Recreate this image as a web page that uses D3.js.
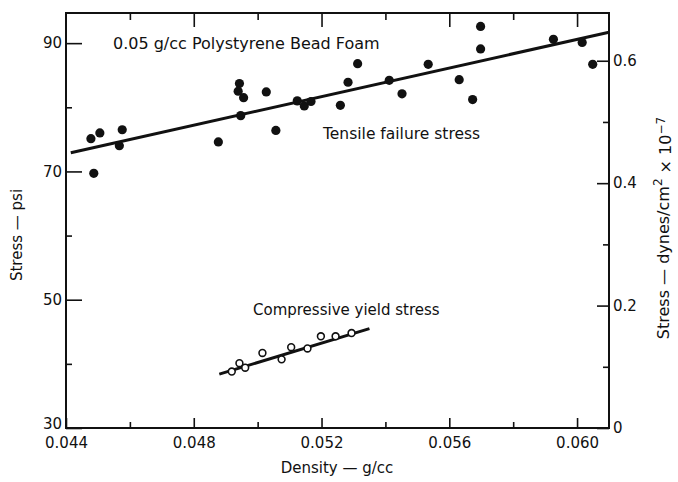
<!DOCTYPE html>
<html><head><meta charset="utf-8">
<script src="https://cdn.jsdelivr.net/npm/d3@7"></script>
<style>
html,body{margin:0;padding:0;background:#fff;}
svg{display:block;}
text{font-family:"DejaVu Sans",sans-serif;fill:#111;}
.domain{display:none;}
</style></head><body>
<svg id="c" width="678" height="482"></svg>
<script>
// Tensile failure stress (filled dots): density g/cc, stress psi
const tensileDensity = [0.04478,0.04506,0.04487,0.04576,0.04567,0.04877,0.04943,0.04939,0.04956,0.04947,0.05027,0.05057,0.05124,0.05146,0.05167,0.05259,0.05283,0.05313,0.05412,0.05452,0.05534,0.05631,0.05673,0.05698,0.05698,0.05926,0.06016,0.06049];
const tensileStress  = [75.1,76.0,69.7,76.5,74.0,74.6,83.7,82.5,81.5,78.7,82.4,76.4,81.0,80.2,80.9,80.3,83.9,86.8,84.2,82.1,86.7,84.3,81.2,92.6,89.1,90.6,90.1,86.7];
// Compressive yield stress (open circles)
const compDensity = [0.04919,0.04943,0.04961,0.05015,0.05075,0.05105,0.05156,0.05198,0.05244,0.05294];
const compStress  = [38.8,40.1,39.4,41.7,40.7,42.6,42.4,44.3,44.3,44.8];
// Fitted lines (endpoints)
const tensileFitDensity = [0.04415,0.06100];
const tensileFitStress  = [72.9,91.7];
const compFitDensity = [0.0488,0.0535];
const compFitStress  = [38.4,45.5];
// Ticks
const xMajorTicks = [0.044,0.048,0.052,0.056,0.060];
const xMinorTicks = [0.046,0.050,0.054,0.058];
const yLeftMajor = [30,50,70,90];
const yLeftMinor = [40,60,80];
const yRightMajor = [0,0.2,0.4,0.6];
const yRightMinor = [0.1,0.3,0.5];

const svg = d3.select("#c");
const L=66,R=609,T=13,B=428;
const x = d3.scaleLinear().domain([0.044,0.061]).range([L,R]);
const yL = d3.scaleLinear().domain([30,94.7]).range([B,T]);
const yR = d3.scaleLinear().domain([0,0.678]).range([B,T]);

// frame
svg.append("rect").attr("x",L).attr("y",T).attr("width",R-L).attr("height",B-T)
  .attr("fill","none").attr("stroke","#111").attr("stroke-width",2);

function styleAxis(g){ g.selectAll("line").attr("stroke","#111").attr("stroke-width",1.6);
  g.selectAll("text").attr("font-size",15).attr("fill","#111").attr("font-family","DejaVu Sans, sans-serif"); }

// bottom
svg.append("g").attr("transform",`translate(0,${B})`)
  .call(d3.axisBottom(x).tickValues(xMajorTicks).tickSize(-10).tickPadding(9).tickFormat(d3.format(".3f")))
  .call(styleAxis);
svg.append("g").attr("transform",`translate(0,${B})`)
  .call(d3.axisBottom(x).tickValues(xMinorTicks).tickSize(-6).tickFormat(""))
  .call(styleAxis);
// top
svg.append("g").attr("transform",`translate(0,${T})`)
  .call(d3.axisTop(x).tickValues(xMajorTicks.slice(1)).tickSize(-14).tickFormat(""))
  .call(styleAxis);
svg.append("g").attr("transform",`translate(0,${T})`)
  .call(d3.axisTop(x).tickValues(xMinorTicks).tickSize(-7).tickFormat(""))
  .call(styleAxis);
// left
svg.append("g").attr("transform",`translate(${L},0)`)
  .call(d3.axisLeft(yL).tickValues(yLeftMajor).tickSize(-16).tickPadding(4).tickFormat(d3.format("d")))
  .call(styleAxis);
svg.append("g").attr("transform",`translate(${L},0)`)
  .call(d3.axisLeft(yL).tickValues(yLeftMinor).tickSize(-6).tickFormat(""))
  .call(styleAxis);
// right
svg.append("g").attr("transform",`translate(${R},0)`)
  .call(d3.axisRight(yR).tickValues(yRightMajor).tickSize(-12).tickPadding(4).tickFormat(d=>d===0?"0":d3.format(".1f")(d)))
  .call(styleAxis);
svg.append("g").attr("transform",`translate(${R},0)`)
  .call(d3.axisRight(yR).tickValues(yRightMinor).tickSize(-6).tickFormat(""))
  .call(styleAxis);
// "30" sits just above "0.044", as in the original
svg.selectAll("g text").filter(function(){return this.textContent==="30";}).attr("dy","0em");

// fit lines
const line = d3.line().x(d=>x(d[0])).y(d=>yL(d[1]));
svg.append("path").datum(d3.zip(tensileFitDensity,tensileFitStress)).attr("d",line)
  .attr("fill","none").attr("stroke","#111").attr("stroke-width",3);
svg.append("path").datum(d3.zip(compFitDensity,compFitStress)).attr("d",line)
  .attr("fill","none").attr("stroke","#111").attr("stroke-width",3);

// points
svg.append("g").selectAll("circle").data(d3.zip(tensileDensity,tensileStress)).join("circle")
  .attr("cx",d=>x(d[0])).attr("cy",d=>yL(d[1])).attr("r",4.6).attr("fill","#111");
svg.append("g").selectAll("circle").data(d3.zip(compDensity,compStress)).join("circle")
  .attr("cx",d=>x(d[0])).attr("cy",d=>yL(d[1])).attr("r",3.4).attr("fill","#fff")
  .attr("stroke","#111").attr("stroke-width",1.6);

// annotations
svg.append("text").attr("x",113).attr("y",49).attr("font-size",16).text("0.05 g/cc Polystyrene Bead Foam");
svg.append("text").attr("x",323).attr("y",139).attr("font-size",15.5).text("Tensile failure stress");
svg.append("text").attr("x",253).attr("y",315).attr("font-size",15).text("Compressive yield stress");

// axis titles
svg.append("text").attr("x",337).attr("y",473).attr("text-anchor","middle").attr("font-size",15).text("Density — g/cc");
svg.append("text").attr("transform","translate(22,235) rotate(-90)").attr("text-anchor","middle").attr("font-size",15).text("Stress — psi");
const rt = svg.append("text").attr("transform","translate(669,228) rotate(-90)").attr("text-anchor","middle").attr("font-size",16);
rt.append("tspan").text("Stress — dynes/cm");
rt.append("tspan").attr("dy","-0.55em").attr("font-size",12).text("2");
rt.append("tspan").attr("dy","0.55em").text(" × 10");
rt.append("tspan").attr("dy","-0.55em").attr("font-size",12).text("−7");
</script></body></html>
